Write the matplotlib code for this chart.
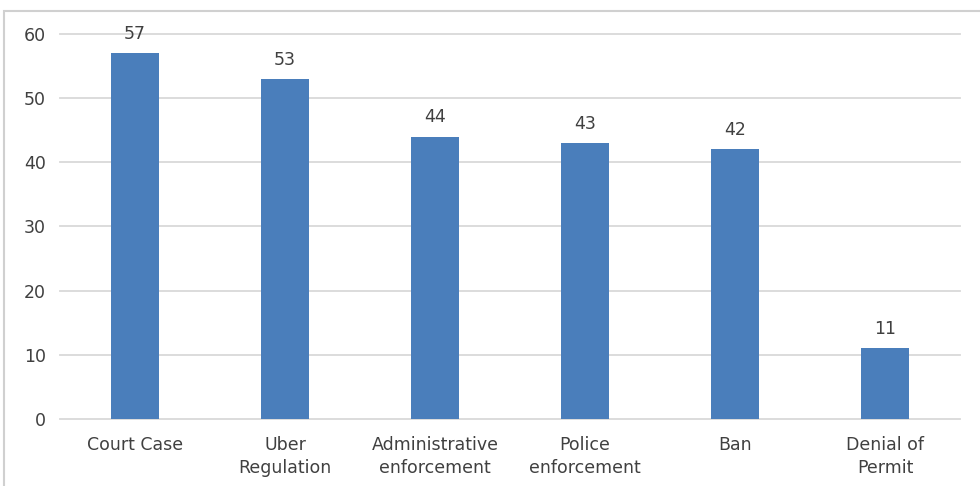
import matplotlib.pyplot as plt
from matplotlib.patches import Rectangle

categories = ["Court Case", "Uber\nRegulation", "Administrative\nenforcement",
              "Police\nenforcement", "Ban", "Denial of\nPermit"]
counts = [57, 53, 44, 43, 42, 11]
yticks = [0, 10, 20, 30, 40, 50, 60]

bar_color = "#4a7ebb"
text_color = "#404040"
grid_color = "#d9d9d9"
font = "DejaVu Sans"

plt.rcParams['font.family'] = [font]
plt.rcParams['font.sans-serif'] = [font]

fig = plt.figure(figsize=(9.8, 4.86), dpi=100)
ax = fig.add_axes([0.0612, 0.138, 0.9184, 0.792])

x = list(range(len(categories)))
ax.bar(x, counts, width=0.32, color=bar_color, zorder=3)
for xi, v in zip(x, counts):
    ax.text(xi, v + 1.6, str(v), ha="center", va="bottom",
            fontsize=12.5, color=text_color, family=font)

ax.set_xlim(-0.5, len(categories) - 0.5)
ax.set_ylim(0, 60)
ax.set_yticks(yticks)
ax.set_yticklabels([str(t) for t in yticks], fontsize=12.5, color=text_color, family=font)
ax.set_xticks(x)
ax.set_xticklabels(categories, fontsize=12.5, color=text_color, linespacing=1.4,
                   family=font)
ax.tick_params(axis="y", length=0, pad=10)
ax.tick_params(axis="x", length=0, pad=12)
ax.yaxis.grid(True, color=grid_color, linewidth=1.3, zorder=0)
for gl in ax.get_ygridlines():
    gl.set_clip_on(False)
for s in ax.spines.values():
    s.set_visible(False)

# chart area border
fig.patches.append(Rectangle((4 / 980, -0.1), 1.1, 1.1 - 11 / 486,
                             transform=fig.transFigure, fill=False,
                             edgecolor="#d0d0d0", linewidth=1.5, zorder=0))

fig.savefig("out.png", dpi=100)
